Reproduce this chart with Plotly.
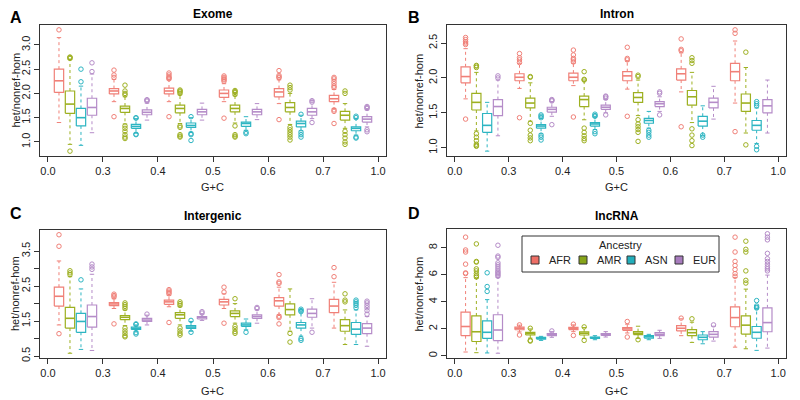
import plotly.graph_objects as go

ANCESTRY = ["AFR", "AMR", "ASN", "EUR"]
COLORS = ["#F08078", "#9DB020", "#2DB5C2", "#B58CC8"]
LEGEND_COLORS = ["#EE6F66", "#86A419", "#22AEBB", "#A87CBE"]
GC_TICK_LABELS = ["0.0", "0.3", "0.4", "0.5", "0.6", "0.7", "1.0"]
PANEL_TITLES = ["Exome", "Intron", "Intergenic", "lncRNA"]
PANEL_LETTERS = ["A", "B", "C", "D"]

# ---- Exome: [group][AFR, AMR, ASN, EUR] ----
exome_lo = [[1.40, 0.95, 0.93, 1.19], [1.83, 1.37, 1.18, 1.45], [1.83, 1.38, 1.20, 1.45],
            [1.83, 1.39, 1.24, 1.46], [1.79, 1.36, 1.23, 1.48], [1.69, 1.28, 1.14, 1.31]]
exome_q1 = [[2.02, 1.59, 1.33, 1.55], [1.99, 1.61, 1.28, 1.56], [1.99, 1.60, 1.30, 1.56],
            [1.92, 1.62, 1.32, 1.56], [1.93, 1.62, 1.31, 1.55], [1.83, 1.45, 1.23, 1.41]]
exome_med = [[2.26, 1.78, 1.50, 1.71], [2.05, 1.69, 1.32, 1.61], [2.05, 1.69, 1.34, 1.62],
             [2.00, 1.69, 1.38, 1.62], [2.03, 1.71, 1.38, 1.62], [1.89, 1.55, 1.28, 1.47]]
exome_q3 = [[2.50, 2.05, 1.69, 1.90], [2.10, 1.74, 1.36, 1.66], [2.11, 1.76, 1.39, 1.67],
            [2.07, 1.76, 1.41, 1.67], [2.10, 1.81, 1.43, 1.69], [1.96, 1.63, 1.31, 1.52]]
exome_hi = [[3.15, 2.70, 2.15, 2.40], [2.29, 1.93, 1.48, 1.80], [2.28, 1.97, 1.50, 1.80],
            [2.20, 1.95, 1.52, 1.79], [2.28, 2.00, 1.55, 1.86], [2.08, 1.79, 1.48, 1.66]]
exome_out = [
    [[3.31], [2.72, 2.74, 2.75, 0.81], [2.24, 2.50], [2.45, 2.63]],
    [[2.33, 2.38, 2.48, 1.52], [1.97, 2.00, 2.05, 2.17, 1.33, 1.28, 1.22, 1.15, 1.10, 1.07], [1.49, 1.50, 1.16, 1.15], [1.84, 1.86, 1.87]],
    [[2.30, 2.32, 2.34, 2.38, 2.42, 1.52], [2.00, 2.03, 2.05, 2.07, 1.33, 1.30, 1.15, 1.12, 1.10], [1.52, 1.17, 1.15, 1.03], []],
    [[2.25, 2.28, 2.30, 2.33, 2.36, 1.49], [1.98, 2.02, 2.04, 2.06, 1.33, 1.15, 1.12, 1.10], [1.20, 1.17], []],
    [[2.32, 2.34, 2.37, 2.47, 1.46], [2.07, 2.12, 2.17, 1.30, 1.25, 1.20, 1.15, 1.10, 1.04], [1.57, 1.20, 1.15, 1.10], [1.82, 1.85, 1.40]],
    [[2.12, 2.15, 2.20, 2.25, 2.30, 2.33, 1.66, 1.63, 1.38], [2.00, 2.05, 1.22, 1.15, 1.08, 1.00, 0.95], [1.50, 1.53, 1.10, 1.08], [1.69, 1.71, 1.73, 1.25, 1.21]],
]

# ---- Intron ----
intron_lo = [[1.70, 1.24, 0.95, 1.17], [1.85, 1.38, 1.20, 1.45], [1.89, 1.40, 1.26, 1.50],
             [1.84, 1.46, 1.28, 1.52], [1.80, 1.36, 1.17, 1.41], [1.64, 1.21, 1.06, 1.21]]
intron_q1 = [[1.93, 1.54, 1.22, 1.46], [1.96, 1.57, 1.28, 1.51], [1.96, 1.59, 1.31, 1.55],
             [1.96, 1.65, 1.35, 1.59], [1.97, 1.61, 1.31, 1.57], [1.96, 1.52, 1.25, 1.50]]
intron_med = [[2.02, 1.65, 1.32, 1.59], [2.01, 1.64, 1.31, 1.55], [2.01, 1.69, 1.34, 1.58],
              [2.03, 1.72, 1.39, 1.63], [2.06, 1.73, 1.38, 1.65], [2.09, 1.64, 1.32, 1.60]]
intron_q3 = [[2.16, 1.78, 1.49, 1.69], [2.06, 1.71, 1.33, 1.58], [2.07, 1.74, 1.36, 1.61],
             [2.09, 1.79, 1.42, 1.66], [2.13, 1.82, 1.45, 1.71], [2.21, 1.77, 1.39, 1.69]]
intron_hi = [[2.42, 2.08, 1.65, 1.97], [2.21, 1.93, 1.42, 1.66], [2.21, 1.97, 1.44, 1.69],
             [2.24, 1.97, 1.52, 1.73], [2.36, 2.08, 1.60, 1.88], [2.53, 2.15, 1.57, 1.97]]
intron_out = [
    [[2.48, 2.50, 2.52, 2.55, 2.58, 1.41], [2.15, 2.17, 2.18, 1.20, 1.15, 1.10, 1.05, 1.03, 1.02], [], [2.00, 2.03]],
    [[2.22, 2.26, 2.29, 2.35, 1.43], [2.01, 2.02, 1.35, 1.25, 1.18, 1.14, 1.10], [1.43, 1.45, 1.47, 1.18, 1.15, 1.11], [1.67, 1.68, 1.69, 1.33]],
    [[2.23, 2.26, 2.28, 2.33, 2.40, 1.44], [1.97, 1.98, 2.09, 1.28, 1.22, 1.17, 1.13, 1.10], [1.45, 1.46, 1.48, 1.23, 1.20], [1.71, 1.73, 1.74, 1.47]],
    [[2.26, 2.28, 2.44, 1.45], [2.02, 2.04, 1.40, 1.34, 1.30, 1.26, 1.22, 1.09], [1.25, 1.22, 1.18, 1.15], [1.78, 1.80, 1.47]],
    [[2.39, 2.41, 2.56, 1.30], [2.21, 2.25, 2.29, 1.27, 1.18, 1.10, 1.03], [1.15, 1.18], []],
    [[2.64, 2.69, 1.23], [2.37, 1.04], [1.60, 1.63, 1.66, 1.02, 0.97], []],
]

# ---- Intergenic ----
inter_lo = [[1.39, 0.58, 0.69, 0.66], [1.86, 1.37, 1.21, 1.39], [1.91, 1.39, 1.21, 1.52],
            [1.86, 1.44, 1.25, 1.44], [1.68, 1.21, 1.07, 1.30], [1.30, 0.83, 0.83, 0.78]]
inter_q1 = [[1.93, 1.30, 1.18, 1.33], [1.94, 1.54, 1.26, 1.49], [1.98, 1.58, 1.29, 1.56],
            [1.96, 1.63, 1.35, 1.58], [1.93, 1.68, 1.30, 1.61], [1.74, 1.21, 1.12, 1.14]]
inter_med = [[2.21, 1.58, 1.49, 1.63], [1.99, 1.61, 1.29, 1.53], [2.05, 1.68, 1.33, 1.60],
             [2.05, 1.72, 1.39, 1.63], [2.08, 1.83, 1.39, 1.72], [1.93, 1.37, 1.27, 1.30]]
inter_q3 = [[2.47, 1.89, 1.72, 1.96], [2.03, 1.66, 1.33, 1.58], [2.10, 1.74, 1.37, 1.63],
            [2.12, 1.79, 1.44, 1.68], [2.17, 1.99, 1.46, 1.84], [2.12, 1.54, 1.46, 1.43]]
inter_hi = [[3.22, 2.77, 2.42, 2.84], [2.14, 1.82, 1.39, 1.67], [2.24, 1.91, 1.49, 1.70],
            [2.28, 2.00, 1.56, 1.82], [2.47, 2.42, 1.82, 2.14], [2.61, 1.82, 1.82, 1.63]]
inter_out = [
    [[3.64, 3.97, 1.14], [2.83, 2.88, 2.94], [2.68], [2.98, 3.05, 3.13]],
    [[2.19, 2.23, 2.27, 1.42], [1.86, 1.92, 1.97, 2.02, 1.30, 1.22, 1.15, 1.08, 1.05], [1.40, 1.42, 1.17, 1.13], [1.70]],
    [[2.28, 2.32, 2.36, 2.40, 1.46], [1.95, 2.00, 2.05, 1.30, 1.22, 1.15, 1.10], [1.52, 1.18], [1.73, 1.77]],
    [[2.33, 2.47, 1.44], [2.14, 1.35, 1.28, 1.20, 1.15], [1.18], [1.86, 1.89]],
    [[2.58, 2.62, 2.83, 1.64, 1.60, 1.42], [1.15, 0.90], [1.77, 1.80, 1.84, 1.00, 0.95], [1.18]],
    [[2.77, 3.03], [2.05, 2.10, 2.28], [1.88, 1.95, 2.00, 2.05, 2.10], [1.70, 1.80, 1.88, 1.95, 2.02, 2.07]],
]

# ---- lncRNA ----
lnc_lo = [[0.29, 0.24, 0.22, 0.20], [1.78, 1.32, 1.15, 1.38], [1.80, 1.30, 1.20, 1.40],
          [1.70, 1.30, 1.20, 1.30], [1.50, 1.00, 0.90, 1.10], [0.65, 0.53, 0.41, 0.58]]
lnc_q1 = [[1.50, 1.07, 1.30, 1.14], [1.94, 1.55, 1.25, 1.50], [1.95, 1.55, 1.30, 1.52],
          [1.90, 1.58, 1.32, 1.50], [1.85, 1.50, 1.20, 1.40], [2.16, 1.62, 1.31, 1.79]]
lnc_med = [[2.18, 1.79, 1.75, 1.92], [2.04, 1.65, 1.31, 1.57], [2.03, 1.68, 1.35, 1.58],
           [2.00, 1.68, 1.42, 1.60], [2.05, 1.72, 1.38, 1.60], [2.84, 2.28, 1.75, 2.47]]
lnc_q3 = [[3.25, 2.96, 2.60, 3.05], [2.13, 1.75, 1.38, 1.65], [2.12, 1.78, 1.40, 1.65],
          [2.10, 1.80, 1.50, 1.72], [2.25, 1.95, 1.55, 1.80], [3.64, 2.96, 2.18, 3.56]]
lnc_hi = [[5.80, 5.75, 4.17, 5.82], [2.28, 2.00, 1.45, 1.80], [2.30, 2.10, 1.50, 1.80],
          [2.35, 2.20, 1.60, 1.90], [2.75, 2.50, 1.80, 2.20], [5.80, 4.95, 3.50, 5.99]]
lnc_out = [
    [[6.10, 6.15, 6.80, 7.70, 7.85, 8.80], [5.85, 5.95, 6.10, 6.30, 6.45, 6.95, 7.00, 8.30], [4.78, 5.14, 6.16],
     [5.90, 6.00, 6.10, 6.20, 6.30, 6.45, 6.60, 6.75, 6.90, 7.30, 7.40, 8.20]],
    [[2.30, 1.55], [2.05, 1.15, 1.10], [], [1.85]],
    [[2.35, 1.52], [2.15, 1.15], [], []],
    [[2.55, 1.40], [1.20], [], []],
    [[2.80], [2.75], [], [2.30]],
    [[5.90, 6.10, 6.40, 6.70, 7.00, 7.70, 8.80], [5.40, 5.60, 6.30, 7.70, 7.90, 8.50], [3.55, 3.60, 3.70, 4.10],
     [6.30, 6.45, 6.60, 6.80, 7.00, 7.20, 7.60, 8.60, 8.80, 9.05]],
]

Y_TICKS = [
    [1.0, 1.5, 2.0, 2.5, 3.0],
    [1.0, 1.5, 2.0, 2.5],
    [0.5, 1.0, 1.5, 2.0, 2.5, 3.0, 3.5],
    [0, 2, 4, 6, 8],
]
Y_TICK_TEXT = [
    ["1.0", "1.5", "2.0", "2.5", "3.0"],
    ["1.0", "1.5", "2.0", "2.5"],
    ["0.5", "", "1.5", "", "2.5", "", "3.5"],
    ["0", "2", "4", "6", "8"],
]

PANELS = [
    (exome_lo, exome_q1, exome_med, exome_q3, exome_hi, exome_out),
    (intron_lo, intron_q1, intron_med, intron_q3, intron_hi, intron_out),
    (inter_lo, inter_q1, inter_med, inter_q3, inter_hi, inter_out),
    (lnc_lo, lnc_q1, lnc_med, lnc_q3, lnc_hi, lnc_out),
]

# The page body has an 8px margin, so the figure is laid out in screen pixels minus that offset.
OFF = 8
FW, FH = 792, 392
FRAMES = [(40, 386, 25, 156), (447, 786, 25, 156), (40, 386, 230, 358), (447, 786, 229, 358)]


def px(x):
    return (x - OFF) / FW


def py(y):
    return 1 - (y - OFF) / FH


HALF_W = 0.085
CAP_W = 0.04
FONT = "Liberation Sans, Arial, sans-serif"
TXT = "#222222"

fig = go.Figure()
layout_axes = {}
annotations = []
shapes = []

for p, (lo, q1, med, q3, hi, out) in enumerate(PANELS):
    ax = "" if p == 0 else str(p + 1)
    xref, yref = "x" + ax, "y" + ax
    allv = []
    for k in range(4):
        bx, by, mx, my, wx, wy, cx, cy, ox, oy = [], [], [], [], [], [], [], [], [], []
        for g in range(6):
            x0 = g + 0.2 * (k + 1)
            a, b, m, c, d = lo[g][k], q1[g][k], med[g][k], q3[g][k], hi[g][k]
            bx += [x0 - HALF_W, x0 + HALF_W, x0 + HALF_W, x0 - HALF_W, x0 - HALF_W, None]
            by += [b, b, c, c, b, None]
            mx += [x0 - HALF_W, x0 + HALF_W, None]
            my += [m, m, None]
            wx += [x0, x0, None, x0, x0, None]
            wy += [c, d, None, b, a, None]
            cx += [x0 - CAP_W, x0 + CAP_W, None, x0 - CAP_W, x0 + CAP_W, None]
            cy += [d, d, None, a, a, None]
            for v in out[g][k]:
                ox.append(x0)
                oy.append(v)
            allv += [a, d] + out[g][k]
        col = COLORS[k]
        fig.add_trace(go.Scatter(x=wx, y=wy, mode="lines", xaxis=xref, yaxis=yref, showlegend=False,
                                 line=dict(color=col, width=1, dash="3px,3px"), hoverinfo="skip"))
        fig.add_trace(go.Scatter(x=cx, y=cy, mode="lines", xaxis=xref, yaxis=yref, showlegend=False,
                                 line=dict(color=col, width=1), hoverinfo="skip"))
        fig.add_trace(go.Scatter(x=bx, y=by, mode="lines", xaxis=xref, yaxis=yref, showlegend=False,
                                 fill="toself", fillcolor="white",
                                 line=dict(color=col, width=1.2), hoverinfo="skip"))
        fig.add_trace(go.Scatter(x=mx, y=my, mode="lines", xaxis=xref, yaxis=yref, showlegend=False,
                                 line=dict(color=col, width=1.6), hoverinfo="skip"))
        fig.add_trace(go.Scatter(x=ox, y=oy, mode="markers", xaxis=xref, yaxis=yref, showlegend=False,
                                 marker=dict(symbol="circle-open", size=4.5, color=col, line=dict(width=1)),
                                 hoverinfo="skip"))
    ymin, ymax = min(allv), max(allv)
    pad = 0.04 * (ymax - ymin)
    x0p, x1p, y0p, y1p = FRAMES[p]
    xdom = [px(x0p), px(x1p)]
    ydom = [py(y1p), py(y0p)]
    common = dict(showline=True, mirror=True, linecolor="#333333", linewidth=1, ticks="outside",
                  ticklen=5, tickcolor="#333333", showgrid=False, zeroline=False, automargin=False,
                  tickfont=dict(family=FONT, size=11, color=TXT))
    layout_axes["xaxis" + ax] = dict(domain=xdom, range=[-0.145, 6.145], tickvals=list(range(7)),
                                     ticktext=GC_TICK_LABELS, anchor=yref, **common)
    layout_axes["yaxis" + ax] = dict(domain=ydom, range=[ymin - pad, ymax + pad], tickvals=Y_TICKS[p],
                                     ticktext=Y_TICK_TEXT[p], tickangle=-90, anchor=xref, **common)
    xc = px((x0p + x1p) / 2)
    top_y = 14 if p < 2 else 216
    annotations.append(dict(text="<b>%s</b>" % PANEL_TITLES[p], x=xc, y=py(top_y), xref="paper", yref="paper",
                            showarrow=False, font=dict(family=FONT, size=12, color="black"),
                            xanchor="center", yanchor="middle"))
    lx = 16 if p % 2 == 0 else 414
    ly = 18 if p < 2 else 213
    annotations.append(dict(text="<b>%s</b>" % PANEL_LETTERS[p], x=px(lx), y=py(ly), xref="paper", yref="paper",
                            showarrow=False, font=dict(family=FONT, size=16, color="black"),
                            xanchor="center", yanchor="middle"))
    gy = 187 if p < 2 else 391
    annotations.append(dict(text="G+C", x=xc, y=py(gy), xref="paper", yref="paper",
                            showarrow=False, font=dict(family=FONT, size=11, color=TXT),
                            xanchor="center", yanchor="middle"))
    yx = 15 if p % 2 == 0 else 418
    annotations.append(dict(text="het/nonref-hom", x=px(yx), y=py((y0p + y1p) / 2), xref="paper", yref="paper",
                            showarrow=False, textangle=-90, font=dict(family=FONT, size=11, color=TXT),
                            xanchor="center", yanchor="middle"))

# manual legend (box, title, swatches, labels) inside panel D
LEG_BOX = (522, 719, 236, 272)
shapes.append(dict(type="rect", xref="paper", yref="paper",
                   x0=px(LEG_BOX[0]), x1=px(LEG_BOX[1]), y0=py(LEG_BOX[3]), y1=py(LEG_BOX[2]),
                   line=dict(color="#333333", width=1), fillcolor="white", layer="above"))
annotations.append(dict(text="Ancestry", x=px(620), y=py(245), xref="paper", yref="paper", showarrow=False,
                        font=dict(family=FONT, size=11, color=TXT), xanchor="center", yanchor="middle"))
for k in range(4):
    sx = 535 + 48 * k
    sy = 260
    shapes.append(dict(type="rect", xref="paper", yref="paper",
                       x0=px(sx - 4), x1=px(sx + 4), y0=py(sy + 4), y1=py(sy - 4),
                       line=dict(color="#333333", width=1), fillcolor=LEGEND_COLORS[k], layer="above"))
    annotations.append(dict(text=ANCESTRY[k], x=px(sx + 12), y=py(sy), xref="paper", yref="paper",
                            showarrow=False, font=dict(family=FONT, size=11, color=TXT),
                            xanchor="left", yanchor="middle"))

fig.update_layout(
    width=FW, height=FH, margin=dict(l=0, r=0, t=0, b=0),
    paper_bgcolor="white", plot_bgcolor="white",
    showlegend=False,
    annotations=annotations, shapes=shapes,
    **layout_axes,
)

fig.write_html("out.html")
